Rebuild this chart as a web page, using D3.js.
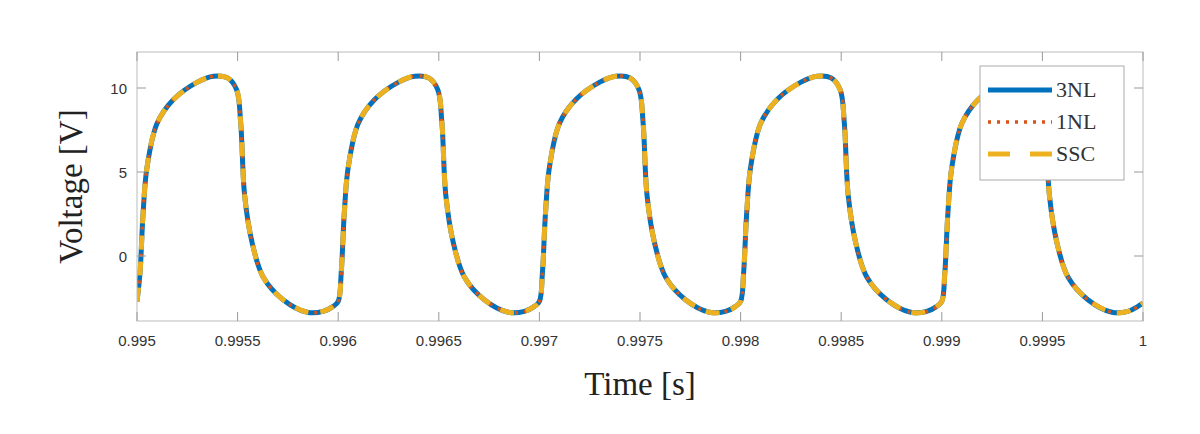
<!DOCTYPE html>
<html><head><meta charset="utf-8">
<script src="https://cdn.jsdelivr.net/npm/d3@7"></script>
<style>body{margin:0;background:#fff}</style>
</head><body>
<svg id="c" width="1200" height="434"></svg>
<script>
// one cycle: time offset from cycle start [s], voltage [V]
var cycleT = [0, 0.000015, 0.00003, 0.00005, 0.0001, 0.00018, 0.0003, 0.00038, 0.00045,
              0.000495, 0.000515, 0.000535, 0.000572, 0.000627, 0.000726, 0.000846, 0.000925, 0.000975];
var cycleV = [-2.7, -1.0, 2.5, 5.3, 7.9, 9.3, 10.35, 10.7, 10.6,
              9.9, 8.0, 3.6, 0.8, -1.25, -2.6, -3.35, -3.3, -3.0];
var cycleStarts = [0.995, 0.996, 0.997, 0.998, 0.999];
var xTicks = [0.995, 0.9955, 0.996, 0.9965, 0.997, 0.9975, 0.998, 0.9985, 0.999, 0.9995, 1];
var yTicks = [0, 5, 10];
var seriesNames = ["3NL", "1NL", "SSC"];

var pts = [];
cycleStarts.forEach(function(s){
    cycleT.forEach(function(t, i){ pts.push([s + t, cycleV[i]]); });
});
pts.push([1.0, -2.8]);

var svg = d3.select("#c");
var L = 137, R = 1143, T = 52, B = 321;
var x = d3.scaleLinear().domain([0.995, 1]).range([L, R]);
var y = d3.scaleLinear().domain([-4, 12]).range([323.2, 54.4]);

svg.append("rect").attr("x", L).attr("y", T).attr("width", R - L).attr("height", B - T).attr("fill", "#fff");
svg.append("defs").append("clipPath").attr("id", "clip")
   .append("rect").attr("x", L).attr("y", T).attr("width", R - L).attr("height", B - T);

var line = d3.line().x(function(d){ return x(d[0]); }).y(function(d){ return y(d[1]); }).curve(d3.curveCatmullRom.alpha(0.5));
var styles = [
    {c: "#0072BD", w: 5, dash: null},
    {c: "#D95319", w: 3.5, dash: "3,6"},
    {c: "#EDB120", w: 5, dash: "14,12"}
];
var g = svg.append("g").attr("clip-path", "url(#clip)");
styles.forEach(function(s){
    g.append("path").datum(pts).attr("d", line).attr("fill", "none")
     .attr("stroke", s.c).attr("stroke-width", s.w).attr("stroke-dasharray", s.dash);
});

// axes
var ax = svg.append("g").attr("stroke-width", 1);
ax.append("rect").attr("x", L).attr("y", T).attr("width", R - L).attr("height", B - T).attr("fill", "none").attr("stroke", "#bbb");
xTicks.forEach(function(t){
    ax.append("line").attr("x1", x(t)).attr("x2", x(t)).attr("y1", B).attr("y2", B - 9).attr("stroke", "#999");
    ax.append("line").attr("x1", x(t)).attr("x2", x(t)).attr("y1", T).attr("y2", T + 9).attr("stroke", "#999");
    svg.append("text").attr("x", x(t)).attr("y", B + 25).attr("text-anchor", "middle")
       .attr("font-family", "Liberation Sans, Arial").attr("font-size", 15).attr("fill", "#333").text(t);
});
yTicks.forEach(function(t){
    ax.append("line").attr("x1", L).attr("x2", L + 9).attr("y1", y(t)).attr("y2", y(t)).attr("stroke", "#999");
    ax.append("line").attr("x1", R).attr("x2", R - 9).attr("y1", y(t)).attr("y2", y(t)).attr("stroke", "#999");
    svg.append("text").attr("x", L - 10).attr("y", y(t) + 6).attr("text-anchor", "end")
       .attr("font-family", "Liberation Sans, Arial").attr("font-size", 15).attr("fill", "#333").text(t);
});

svg.append("text").attr("x", (L + R) / 2).attr("y", 395).attr("text-anchor", "middle")
   .attr("font-family", "Liberation Serif, serif").attr("font-size", 33).attr("fill", "#222").text("Time [s]");
svg.append("text").attr("transform", "translate(82," + (T + B) / 2 + ") rotate(-90)").attr("text-anchor", "middle")
   .attr("font-family", "Liberation Serif, serif").attr("font-size", 33).attr("fill", "#222").text("Voltage [V]");

// legend
var lg = svg.append("g");
lg.append("rect").attr("x", 980).attr("y", 66).attr("width", 144).attr("height", 114)
  .attr("fill", "#fff").attr("stroke", "#aaa");
seriesNames.forEach(function(n, i){
    var yy = 90 + i * 32, s = styles[i];
    lg.append("line").attr("x1", 988).attr("x2", 1052).attr("y1", yy).attr("y2", yy)
      .attr("stroke", s.c).attr("stroke-width", s.w).attr("stroke-dasharray", i == 2 ? "22,20" : s.dash);
    lg.append("text").attr("x", 1056).attr("y", yy + 7).attr("font-family", "Liberation Serif, serif")
      .attr("font-size", 22).attr("fill", "#333").text(n);
});
</script>
</body></html>
